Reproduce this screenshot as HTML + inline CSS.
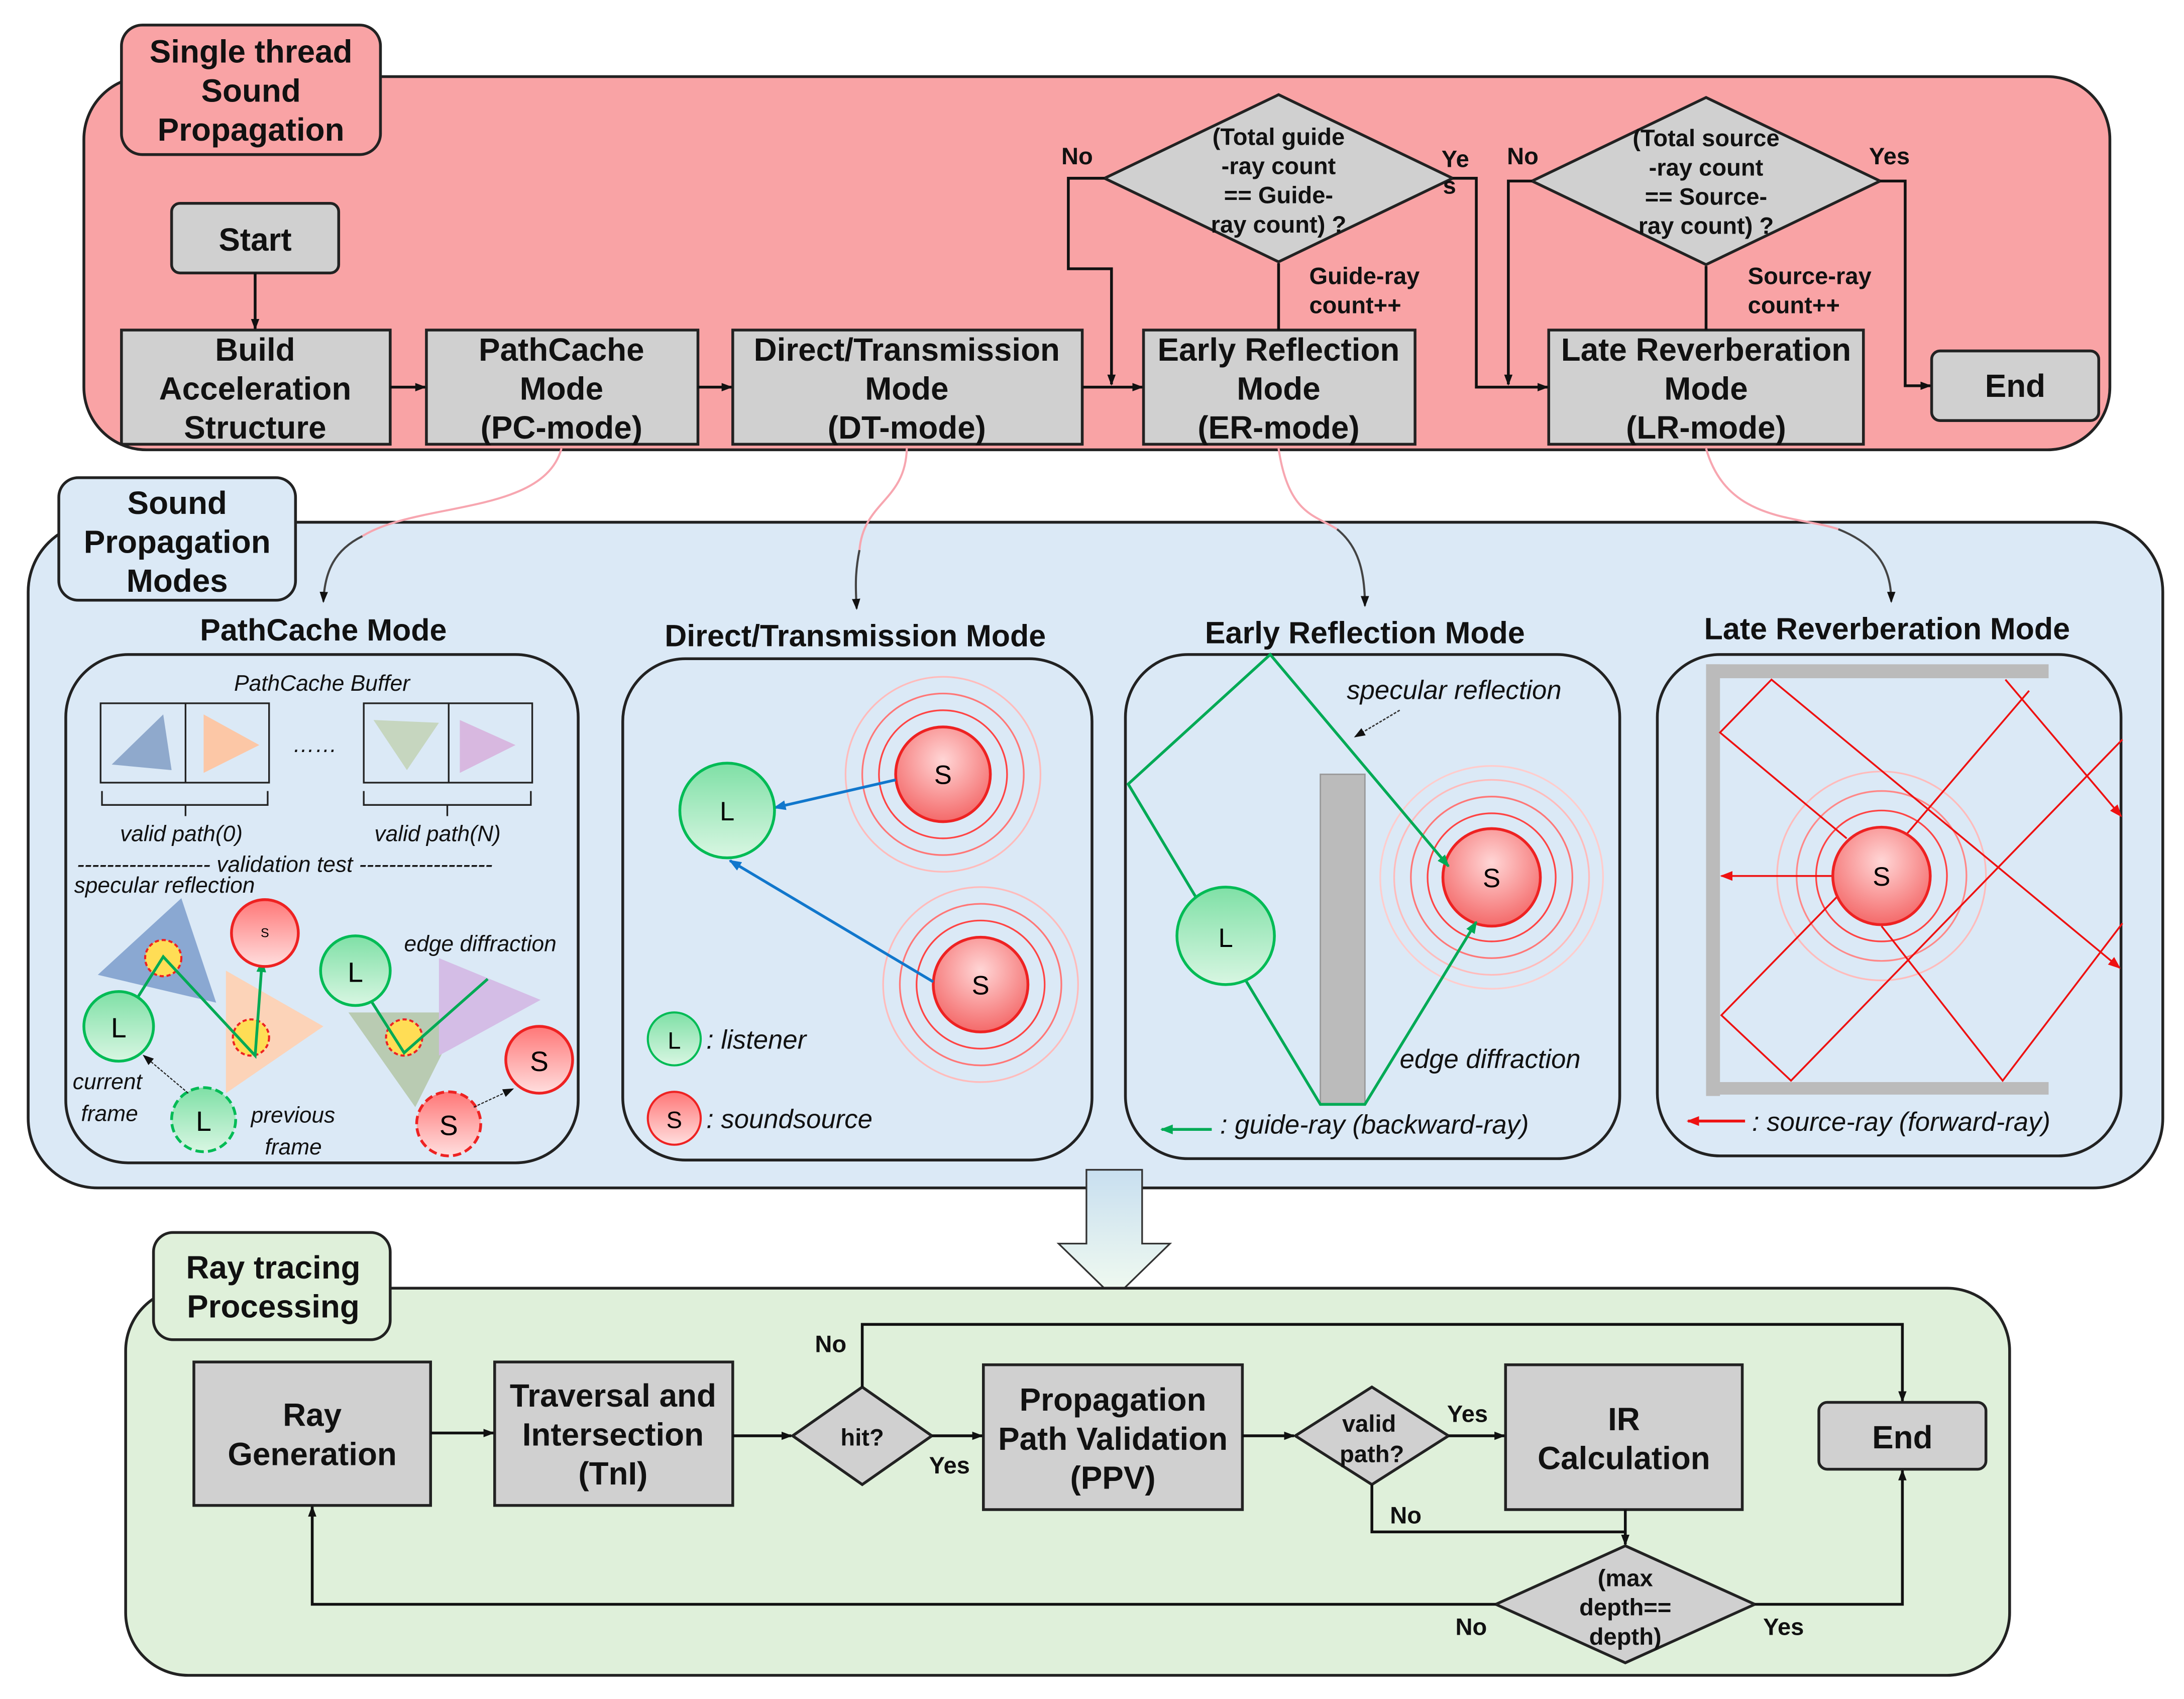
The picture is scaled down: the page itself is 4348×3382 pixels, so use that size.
<!DOCTYPE html>
<html><head><meta charset="utf-8"><style>
html,body{margin:0;padding:0;background:#fff}
svg{display:block}
text{font-family:"Liberation Sans",sans-serif}
.b{font-weight:bold;font-size:23px;fill:#111}
.s{font-weight:bold;font-size:17px;fill:#111}
.i{font-style:italic;font-size:19px;fill:#111}
.ii{font-style:italic;font-size:16px;fill:#111}
.t{font-weight:bold;font-size:22px;fill:#111}
</style></head><body>
<svg width="4348" height="3382" viewBox="0 0 1568 1220" xmlns="http://www.w3.org/2000/svg">
<defs>
<marker id="a" markerWidth="8" markerHeight="8" refX="7" refY="4" orient="auto" markerUnits="userSpaceOnUse"><path d="M0,1 L8,4 L0,7z" fill="#111"/></marker>
<marker id="ag" markerWidth="9" markerHeight="9" refX="8" refY="4.5" orient="auto" markerUnits="userSpaceOnUse"><path d="M0,1 L9,4.5 L0,8z" fill="#0a5"/></marker>
<marker id="ab" markerWidth="9" markerHeight="9" refX="8" refY="4.5" orient="auto" markerUnits="userSpaceOnUse"><path d="M0,1 L9,4.5 L0,8z" fill="#17c"/></marker>
<marker id="ar" markerWidth="9" markerHeight="9" refX="8" refY="4.5" orient="auto" markerUnits="userSpaceOnUse"><path d="M0,1 L9,4.5 L0,8z" fill="#e11"/></marker>
<radialGradient id="gs" cx="50%" cy="35%" r="65%"><stop offset="0" stop-color="#ffd6d6"/><stop offset="1" stop-color="#f46a6a"/></radialGradient>
<linearGradient id="gl" x1="0" y1="0" x2="0" y2="1"><stop offset="0" stop-color="#7fe0a6"/><stop offset="1" stop-color="#d8f6e2"/></linearGradient>
<linearGradient id="gs2" x1="0" y1="0" x2="0" y2="1"><stop offset="0" stop-color="#f77"/><stop offset="1" stop-color="#ffdede"/></linearGradient>
<linearGradient id="arrowg" x1="0" y1="0" x2="0" y2="1"><stop offset="0" stop-color="#c8dff0"/><stop offset="1" stop-color="#f2fbf0"/></linearGradient>
</defs>

<rect x="60" y="55" width="1455" height="268" rx="45" fill="#f9a3a5" stroke="#222" stroke-width="2"/>
<rect x="87" y="18" width="186" height="93" rx="15" fill="#f9a3a5" stroke="#222" stroke-width="2"/>
<text class="b" text-anchor="middle"><tspan x="180" y="45">Single thread</tspan><tspan x="180" y="73">Sound</tspan><tspan x="180" y="101">Propagation</tspan></text>

<g fill="#d0d0d0" stroke="#222" stroke-width="2">
<rect x="123" y="146" width="120" height="50" rx="6"/>
<rect x="87" y="237" width="193" height="82"/>
<rect x="306" y="237" width="195" height="82"/>
<rect x="526" y="237" width="251" height="82"/>
<rect x="821" y="237" width="195" height="82"/>
<rect x="1112" y="237" width="226" height="82"/>
<rect x="1387" y="252" width="120" height="50" rx="6"/>
<polygon points="793,128 918,68 1043,128 918,188"/>
<polygon points="1100,130 1225,70 1350,130 1225,190"/>
</g>
<text class="b" text-anchor="middle" x="183" y="180">Start</text>
<text class="b" text-anchor="middle"><tspan x="183" y="259">Build</tspan><tspan x="183" y="287">Acceleration</tspan><tspan x="183" y="315">Structure</tspan></text>
<text class="b" text-anchor="middle"><tspan x="403" y="259">PathCache</tspan><tspan x="403" y="287">Mode</tspan><tspan x="403" y="315">(PC-mode)</tspan></text>
<text class="b" text-anchor="middle"><tspan x="651" y="259">Direct/Transmission</tspan><tspan x="651" y="287">Mode</tspan><tspan x="651" y="315">(DT-mode)</tspan></text>
<text class="b" text-anchor="middle"><tspan x="918" y="259">Early Reflection</tspan><tspan x="918" y="287">Mode</tspan><tspan x="918" y="315">(ER-mode)</tspan></text>
<text class="b" text-anchor="middle"><tspan x="1225" y="259">Late Reverberation</tspan><tspan x="1225" y="287">Mode</tspan><tspan x="1225" y="315">(LR-mode)</tspan></text>
<text class="b" text-anchor="middle" x="1447" y="285">End</text>
<text class="s" text-anchor="middle"><tspan x="918" y="104">(Total guide</tspan><tspan x="918" y="125">-ray count</tspan><tspan x="918" y="146">== Guide-</tspan><tspan x="918" y="167">ray count) ?</tspan></text>
<text class="s" text-anchor="middle"><tspan x="1225" y="105">(Total source</tspan><tspan x="1225" y="126">-ray count</tspan><tspan x="1225" y="147">== Source-</tspan><tspan x="1225" y="168">ray count) ?</tspan></text>

<g stroke="#111" stroke-width="2" fill="none">
<line x1="183" y1="196" x2="183" y2="236" marker-end="url(#a)"/>
<line x1="280" y1="278" x2="305" y2="278" marker-end="url(#a)"/>
<line x1="501" y1="278" x2="525" y2="278" marker-end="url(#a)"/>
<line x1="777" y1="278" x2="820" y2="278" marker-end="url(#a)"/>
<line x1="918" y1="237" x2="918" y2="189"/>
<polyline points="793,128 767,128 767,193 798,193 798,276" marker-end="url(#a)"/>
<polyline points="1043,128 1060,128 1060,278 1111,278" marker-end="url(#a)"/>
<line x1="1225" y1="237" x2="1225" y2="191"/>
<polyline points="1100,130 1083,130 1083,276" marker-end="url(#a)"/>
<polyline points="1350,130 1368,130 1368,277 1386,277" marker-end="url(#a)"/>
</g>
<text class="s" x="762" y="118">No</text>
<text class="s" x="1035" y="120">Ye</text><text class="s" x="1036" y="139">s</text>
<text class="s" x="940" y="204">Guide-ray</text><text class="s" x="940" y="225">count++</text>
<text class="s" x="1082" y="118">No</text>
<text class="s" x="1342" y="118">Yes</text>
<text class="s" x="1255" y="204">Source-ray</text><text class="s" x="1255" y="225">count++</text>

<rect x="20" y="375" width="1533" height="478" rx="50" fill="#dbe9f6" stroke="#222" stroke-width="2"/>
<g fill="none" stroke-width="1.5">
<path d="M403,322 C390,370 300,360 260,385" stroke="#f7a6b0"/>
<path d="M260,385 C240,395 233,410 232,432" stroke="#444" marker-end="url(#a)"/>
<path d="M651,322 C650,360 620,360 617,395" stroke="#f7a6b0"/>
<path d="M617,395 C614,410 614,420 615,437" stroke="#444" marker-end="url(#a)"/>
<path d="M918,322 C925,370 945,370 960,380" stroke="#f7a6b0"/>
<path d="M960,380 C975,392 980,410 980,435" stroke="#444" marker-end="url(#a)"/>
<path d="M1225,322 C1240,375 1290,370 1320,380" stroke="#f7a6b0"/>
<path d="M1320,380 C1350,392 1358,410 1358,432" stroke="#444" marker-end="url(#a)"/>
</g>
<rect x="42" y="343" width="170" height="88" rx="14" fill="#dbe9f6" stroke="#222" stroke-width="2"/>
<text class="b" text-anchor="middle"><tspan x="127" y="369">Sound</tspan><tspan x="127" y="397">Propagation</tspan><tspan x="127" y="425">Modes</tspan></text>

<g fill="#dbe9f6" stroke="#222" stroke-width="2">
<rect x="47" y="470" width="368" height="365" rx="45"/>
<rect x="447" y="473" width="337" height="360" rx="45"/>
<rect x="808" y="470" width="355" height="362" rx="45"/>
<rect x="1190" y="470" width="333" height="360" rx="45"/>
</g>
<text class="t" text-anchor="middle" x="232" y="460">PathCache Mode</text>
<text class="t" text-anchor="middle" x="614" y="464">Direct/Transmission Mode</text>
<text class="t" text-anchor="middle" x="980" y="462">Early Reflection Mode</text>
<text class="t" text-anchor="middle" x="1355" y="459">Late Reverberation Mode</text>

<text class="ii" text-anchor="middle" x="231" y="496">PathCache Buffer</text>
<g fill="none" stroke="#222" stroke-width="1.2">
<rect x="72" y="505" width="121" height="57"/><line x1="133" y1="505" x2="133" y2="562"/>
<rect x="261" y="505" width="121" height="57"/><line x1="322" y1="505" x2="322" y2="562"/>
<path d="M73,568 v10 h60 v8 M133,578 h59 v-10"/>
<path d="M261,568 v10 h60 v8 M321,578 h60 v-10"/>
</g>
<polygon points="80,549 117,513 123,553" fill="#8fa9cc"/>
<polygon points="146,513 186,535 146,555" fill="#fcc7a6"/>
<polygon points="268,517 315,519 292,553" fill="#c6d6bf"/>
<polygon points="330,517 370,535 330,555" fill="#d8b8e0"/>
<text class="ii" x="210" y="540">……</text>
<text class="ii" text-anchor="middle" x="130" y="604">valid path(0)</text>
<text class="ii" text-anchor="middle" x="314" y="604">valid path(N)</text>
<text class="ii" x="55" y="626">------------------ validation test ------------------</text>
<text class="ii" x="53" y="641">specular reflection</text>
<polygon points="70,700 130,645 155,720" fill="#8aa8d2"/>
<polygon points="162,697 232,737 162,785" fill="#fcd3b8"/>
<polygon points="250,727 332,727 298,795" fill="#b9cbb2"/>
<polygon points="315,688 388,718 315,758" fill="#d4bde6"/>
<circle cx="117" cy="688" r="13" fill="#fd5" stroke="#e22" stroke-width="1.5" stroke-dasharray="3 2"/>
<circle cx="180" cy="745" r="13" fill="#fd5" stroke="#e22" stroke-width="1.5" stroke-dasharray="3 2"/>
<circle cx="290" cy="745" r="13" fill="#fd5" stroke="#e22" stroke-width="1.5" stroke-dasharray="3 2"/>
<g stroke="#0a5" stroke-width="2" fill="none">
<polyline points="95,722 117,687 183,758 188,690" marker-end="url(#ag)"/>
<polyline points="262,712 290,756 350,703"/>
<line x1="376" y1="742" x2="385" y2="752" marker-end="url(#ag)"/>
</g>
<circle cx="190" cy="670" r="24" fill="url(#gs2)" stroke="#e22" stroke-width="2"/><text x="190" y="673" font-size="9" text-anchor="middle">S</text>
<circle cx="85" cy="737" r="25" fill="url(#gl)" stroke="#0b5" stroke-width="2"/><text x="85" y="745" font-size="20" text-anchor="middle">L</text>
<circle cx="255" cy="697" r="25" fill="url(#gl)" stroke="#0b5" stroke-width="2"/><text x="255" y="705" font-size="20" text-anchor="middle">L</text>
<circle cx="387" cy="761" r="24" fill="url(#gs2)" stroke="#e22" stroke-width="2"/><text x="387" y="769" font-size="20" text-anchor="middle">S</text>
<circle cx="146" cy="804" r="23" fill="url(#gl)" stroke="#0b5" stroke-width="2" stroke-dasharray="6 3"/><text x="146" y="812" font-size="20" text-anchor="middle">L</text>
<circle cx="322" cy="807" r="23" fill="url(#gs2)" stroke="#e22" stroke-width="2" stroke-dasharray="6 3"/><text x="322" y="815" font-size="20" text-anchor="middle">S</text>
<g stroke="#222" stroke-width="0.8" stroke-dasharray="2 1" fill="none">
<line x1="135" y1="785" x2="103" y2="758" marker-end="url(#a)"/>
<line x1="340" y1="795" x2="368" y2="782" marker-end="url(#a)"/>
</g>
<text class="ii" x="290" y="683">edge diffraction</text>
<text class="ii" x="52" y="782">current</text><text class="ii" x="58" y="805">frame</text>
<text class="ii" x="180" y="806">previous</text><text class="ii" x="190" y="829">frame</text>

<g fill="none" stroke="#f88" stroke-width="1.2">
<circle cx="677" cy="556" r="46" stroke="#f44"/><circle cx="677" cy="556" r="58" stroke="#f77"/><circle cx="677" cy="556" r="70" stroke="#fbb"/>
<circle cx="704" cy="707" r="46" stroke="#f44"/><circle cx="704" cy="707" r="58" stroke="#f77"/><circle cx="704" cy="707" r="70" stroke="#fbb"/>
</g>
<circle cx="677" cy="556" r="34" fill="url(#gs)" stroke="#e22" stroke-width="2"/><text x="677" y="563" font-size="19" text-anchor="middle">S</text>
<circle cx="704" cy="707" r="34" fill="url(#gs)" stroke="#e22" stroke-width="2"/><text x="704" y="714" font-size="19" text-anchor="middle">S</text>
<g stroke="#17c" stroke-width="2"><line x1="643" y1="560" x2="556" y2="580" marker-end="url(#ab)"/><line x1="670" y1="705" x2="524" y2="618" marker-end="url(#ab)"/></g>
<circle cx="522" cy="582" r="34" fill="url(#gl)" stroke="#0b5" stroke-width="2"/><text x="522" y="589" font-size="19" text-anchor="middle">L</text>
<circle cx="484" cy="746" r="19" fill="url(#gl)" stroke="#0b5" stroke-width="1.5"/><text x="484" y="753" font-size="17" text-anchor="middle">L</text>
<text class="i" x="507" y="753">: listener</text>
<circle cx="484" cy="803" r="19" fill="url(#gs2)" stroke="#e22" stroke-width="1.5"/><text x="484" y="810" font-size="17" text-anchor="middle">S</text>
<text class="i" x="507" y="810">: soundsource</text>

<rect x="948" y="556" width="32" height="237" fill="#bbb" stroke="#999"/>
<g fill="none" stroke="#f88" stroke-width="1.2">
<circle cx="1071" cy="630" r="46" stroke="#f44"/><circle cx="1071" cy="630" r="58" stroke="#f77"/><circle cx="1071" cy="630" r="70" stroke="#fbb"/><circle cx="1071" cy="630" r="80" stroke="#fcc"/>
</g>
<circle cx="1071" cy="630" r="35" fill="url(#gs)" stroke="#e22" stroke-width="2"/><text x="1071" y="637" font-size="19" text-anchor="middle">S</text>
<g stroke="#0a5" stroke-width="2" fill="none">
<polyline points="895,705 810,563 912,470 1040,622" marker-end="url(#ag)"/>
<polyline points="895,705 948,793 980,793 1060,662" marker-end="url(#ag)"/>
<line x1="870" y1="811" x2="834" y2="811" marker-end="url(#ag)"/>
</g>
<circle cx="880" cy="672" r="35" fill="url(#gl)" stroke="#0b5" stroke-width="2"/><text x="880" y="680" font-size="19" text-anchor="middle">L</text>
<line x1="1005" y1="510" x2="973" y2="529" stroke="#333" stroke-dasharray="2 1" marker-end="url(#a)"/>
<text class="i" x="967" y="502">specular reflection</text>
<text class="i" x="1005" y="767">edge diffraction</text>
<text class="i" x="876" y="814">: guide-ray (backward-ray)</text>

<rect x="1225" y="477" width="246" height="10" fill="#bbb"/>
<rect x="1225" y="477" width="10" height="310" fill="#bbb"/>
<rect x="1225" y="777" width="246" height="9" fill="#bbb"/>
<g fill="none" stroke-width="1.2">
<circle cx="1351" cy="629" r="47" stroke="#f44"/><circle cx="1351" cy="629" r="61" stroke="#f88"/><circle cx="1351" cy="629" r="75" stroke="#fbb"/>
</g>
<g stroke="#e11" stroke-width="1.3" fill="none">
<polyline points="1326,602 1235,526 1272,488 1522,695" marker-end="url(#ar)"/>
<line x1="1369" y1="599" x2="1457" y2="496"/>
<line x1="1440" y1="488" x2="1523" y2="586" marker-end="url(#ar)"/>
<polyline points="1319,644 1236,729 1286,776 1524,531"/>
<polyline points="1351,665 1438,776 1524,663"/>
<line x1="1317" y1="629" x2="1236" y2="629" marker-end="url(#ar)"/>
</g>
<circle cx="1351" cy="629" r="35" fill="url(#gs)" stroke="#e22" stroke-width="2"/><text x="1351" y="636" font-size="19" text-anchor="middle">S</text>
<line x1="1253" y1="805" x2="1212" y2="805" stroke="#e11" stroke-width="2" marker-end="url(#ar)"/>
<text class="i" x="1258" y="812">: source-ray (forward-ray)</text>

<polygon points="780,840 820,840 820,893 840,893 800,932 760,893 780,893" fill="url(#arrowg)" stroke="#333" stroke-width="1.2"/>

<rect x="90" y="925" width="1353" height="278" rx="45" fill="#dff0da" stroke="#222" stroke-width="2"/>
<rect x="110" y="885" width="170" height="77" rx="14" fill="#dff0da" stroke="#222" stroke-width="2"/>
<text class="b" text-anchor="middle"><tspan x="196" y="918">Ray tracing</tspan><tspan x="196" y="946">Processing</tspan></text>
<g fill="#d0d0d0" stroke="#222" stroke-width="2">
<rect x="139" y="978" width="170" height="103"/>
<rect x="355" y="978" width="171" height="103"/>
<polygon points="569,1031 619,996 669,1031 619,1066"/>
<rect x="706" y="980" width="186" height="104"/>
<polygon points="930,1031 985,996 1040,1031 985,1066"/>
<rect x="1081" y="980" width="170" height="104"/>
<rect x="1306" y="1007" width="120" height="48" rx="6"/>
<polygon points="1074,1152 1167,1110 1260,1152 1167,1194"/>
</g>
<text class="b" text-anchor="middle"><tspan x="224" y="1024">Ray</tspan><tspan x="224" y="1052">Generation</tspan></text>
<text class="b" text-anchor="middle"><tspan x="440" y="1010">Traversal and</tspan><tspan x="440" y="1038">Intersection</tspan><tspan x="440" y="1066">(TnI)</tspan></text>
<text class="s" text-anchor="middle" x="619" y="1038">hit?</text>
<text class="b" text-anchor="middle"><tspan x="799" y="1013">Propagation</tspan><tspan x="799" y="1041">Path Validation</tspan><tspan x="799" y="1069">(PPV)</tspan></text>
<text class="s" text-anchor="middle"><tspan x="983" y="1028">valid</tspan><tspan x="985" y="1050">path?</tspan></text>
<text class="b" text-anchor="middle"><tspan x="1166" y="1027">IR</tspan><tspan x="1166" y="1055">Calculation</tspan></text>
<text class="b" text-anchor="middle" x="1366" y="1040">End</text>
<text class="s" text-anchor="middle"><tspan x="1167" y="1139">(max</tspan><tspan x="1167" y="1160">depth==</tspan><tspan x="1167" y="1181">depth)</tspan></text>
<g stroke="#111" stroke-width="2" fill="none">
<line x1="309" y1="1029" x2="354" y2="1029" marker-end="url(#a)"/>
<line x1="526" y1="1031" x2="568" y2="1031" marker-end="url(#a)"/>
<line x1="669" y1="1031" x2="705" y2="1031" marker-end="url(#a)"/>
<polyline points="619,996 619,951 1366,951 1366,1006" marker-end="url(#a)"/>
<line x1="892" y1="1031" x2="929" y2="1031" marker-end="url(#a)"/>
<line x1="1040" y1="1031" x2="1080" y2="1031" marker-end="url(#a)"/>
<polyline points="985,1066 985,1100 1167,1100"/>
<line x1="1167" y1="1084" x2="1167" y2="1109" marker-end="url(#a)"/>
<polyline points="1074,1152 224,1152 224,1082" marker-end="url(#a)"/>
<polyline points="1260,1152 1366,1152 1366,1056" marker-end="url(#a)"/>
</g>
<text class="s" x="585" y="971">No</text>
<text class="s" x="667" y="1058">Yes</text>
<text class="s" x="1039" y="1021">Yes</text>
<text class="s" x="998" y="1094">No</text>
<text class="s" x="1045" y="1174">No</text>
<text class="s" x="1266" y="1174">Yes</text>
</svg>
</body></html>
